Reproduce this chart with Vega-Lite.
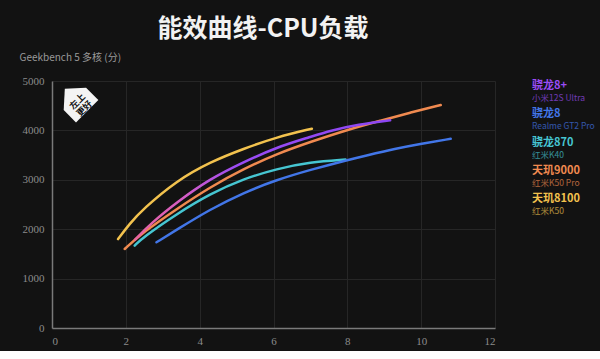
{
  "$schema": "https://vega.github.io/schema/vega-lite/v6.json",
  "background": "#121212",
  "padding": {"left": 19, "top": 17, "right": 5, "bottom": 5},
  "bounds": "flush",
  "spacing": 37,
  "config": {"view": {"stroke": null}, "font": "Liberation Sans Narrow"},
  "datasets": {
    "curves": [
      {"chip": "天玑8100", "x": 1.79, "y": 1800},
      {"chip": "天玑8100", "x": 2.1, "y": 2110},
      {"chip": "天玑8100", "x": 2.47, "y": 2410},
      {"chip": "天玑8100", "x": 3.38, "y": 2985},
      {"chip": "天玑8100", "x": 4.28, "y": 3360},
      {"chip": "天玑8100", "x": 5.19, "y": 3630},
      {"chip": "天玑8100", "x": 6.09, "y": 3865},
      {"chip": "天玑8100", "x": 7.04, "y": 4035},
      {"chip": "天玑9000", "x": 1.97, "y": 1600},
      {"chip": "天玑9000", "x": 2.47, "y": 1940},
      {"chip": "天玑9000", "x": 3.38, "y": 2410},
      {"chip": "天玑9000", "x": 4.28, "y": 2850},
      {"chip": "天玑9000", "x": 5.19, "y": 3220},
      {"chip": "天玑9000", "x": 6.09, "y": 3525},
      {"chip": "天玑9000", "x": 6.99, "y": 3765},
      {"chip": "天玑9000", "x": 8.08, "y": 4030},
      {"chip": "天玑9000", "x": 8.89, "y": 4195},
      {"chip": "天玑9000", "x": 9.7, "y": 4360},
      {"chip": "天玑9000", "x": 10.53, "y": 4514},
      {"chip": "骁龙870", "x": 2.24, "y": 1668},
      {"chip": "骁龙870", "x": 2.47, "y": 1837},
      {"chip": "骁龙870", "x": 3.38, "y": 2310},
      {"chip": "骁龙870", "x": 4.28, "y": 2716},
      {"chip": "骁龙870", "x": 5.19, "y": 3020},
      {"chip": "骁龙870", "x": 6.09, "y": 3223},
      {"chip": "骁龙870", "x": 6.99, "y": 3358},
      {"chip": "骁龙870", "x": 7.95, "y": 3410},
      {"chip": "骁龙8", "x": 2.83, "y": 1735},
      {"chip": "骁龙8", "x": 3.38, "y": 1990},
      {"chip": "骁龙8", "x": 4.28, "y": 2400},
      {"chip": "骁龙8", "x": 5.19, "y": 2740},
      {"chip": "骁龙8", "x": 6.09, "y": 3000},
      {"chip": "骁龙8", "x": 6.99, "y": 3200},
      {"chip": "骁龙8", "x": 8.0, "y": 3400},
      {"chip": "骁龙8", "x": 8.5, "y": 3490},
      {"chip": "骁龙8", "x": 9.3, "y": 3630},
      {"chip": "骁龙8", "x": 10.0, "y": 3730},
      {"chip": "骁龙8", "x": 10.8, "y": 3830},
      {"chip": "骁龙8+", "x": 2.25, "y": 1790},
      {"chip": "骁龙8+", "x": 2.7, "y": 2130},
      {"chip": "骁龙8+", "x": 3.38, "y": 2545},
      {"chip": "骁龙8+", "x": 4.28, "y": 3020},
      {"chip": "骁龙8+", "x": 5.19, "y": 3360},
      {"chip": "骁龙8+", "x": 6.09, "y": 3660},
      {"chip": "骁龙8+", "x": 6.99, "y": 3865},
      {"chip": "骁龙8+", "x": 7.53, "y": 3994},
      {"chip": "骁龙8+", "x": 8.3, "y": 4120},
      {"chip": "骁龙8+", "x": 9.16, "y": 4205}
    ],
    "legend": [
      {"chip": "骁龙8+", "device": "小米12S Ultra"},
      {"chip": "骁龙8", "device": "Realme GT2 Pro"},
      {"chip": "骁龙870", "device": "红米K40"},
      {"chip": "天玑9000", "device": "红米K50 Pro"},
      {"chip": "天玑8100", "device": "红米K50"}
    ],
    "badge": [
      {"x": 0.65, "y": 4615, "label": "左上\n更好"}
    ]
  },
  "hconcat": [
    {
      "width": 443,
      "height": 247,
      "title": {
        "text": "能效曲线-CPU负载",
        "font": "Noto Sans CJK SC",
        "fontSize": 25,
        "fontWeight": "bold",
        "color": "#f2f2f2",
        "anchor": "middle",
        "frame": "bounds",
        "offset": 10,
        "dx": 6
      },
      "layer": [
        {
          "data": {"name": "curves"},
          "transform": [{"filter": "datum.chip != '骁龙8+'"}],
          "mark": {"type": "line", "interpolate": "basis", "strokeWidth": 2.5, "strokeCap": "round"},
          "encoding": {
            "x": {
              "field": "x", "type": "quantitative",
              "scale": {"domain": [0, 12], "nice": false},
              "axis": {
                "values": [0, 2, 4, 6, 8, 10, 12],
                "title": null,
                "ticks": false,
                "labelPadding": 7,
                "labelFontSize": 11,
                "labelColor": "#8c8c8c",
                "domainColor": "#7a7a7a",
                "domainWidth": 1.5,
                "gridColor": "#262626",
                "gridWidth": 1
              }
            },
            "y": {
              "field": "y", "type": "quantitative",
              "scale": {"domain": [0, 5000], "nice": false},
              "axis": {
                "values": [0, 500, 1000, 1500, 2000, 2500, 3000, 3500, 4000, 4500, 5000],
                "labelExpr": "datum.value % 1000 == 0 ? datum.label : ''",
                "format": "d",
                "title": "Geekbench 5 多核 (分)",
                "titleFont": "Noto Sans CJK SC",
                "titleFontSize": 10,
                "titleFontWeight": "normal",
                "titleColor": "#9a9a9a",
                "titleAngle": 0,
                "titleAlign": "left",
                "titleBaseline": "alphabetic",
                "titleX": -33,
                "titleY": -21,
                "ticks": false,
                "labelPadding": 8,
                "labelFontSize": 11,
                "labelColor": "#8c8c8c",
                "domainColor": "#7a7a7a",
                "domainWidth": 1.5,
                "gridColor": "#262626",
                "gridWidth": 1
              }
            },
            "color": {
              "field": "chip", "type": "nominal",
              "scale": {
                "domain": ["骁龙8+", "骁龙8", "骁龙870", "天玑9000", "天玑8100"],
                "range": ["#9a4cf5", "#4276e8", "#46c6d2", "#f08a50", "#f2c24e"]
              },
              "legend": null
            }
          }
        },
        {
          "data": {"name": "curves"},
          "transform": [{"filter": "datum.chip == '骁龙8+'"}],
          "mark": {
            "type": "line", "interpolate": "basis", "strokeWidth": 2.5, "strokeCap": "round",
            "color": {
              "gradient": "linear", "x1": 0, "x2": 1, "y1": 0, "y2": 0,
              "stops": [
                {"offset": 0, "color": "#e8649e"},
                {"offset": 0.2, "color": "#d45cc8"},
                {"offset": 0.4, "color": "#9a4cf5"},
                {"offset": 1, "color": "#8c46f2"}
              ]
            }
          },
          "encoding": {
            "x": {"field": "x", "type": "quantitative"},
            "y": {"field": "y", "type": "quantitative"}
          }
        },
        {
          "data": {"name": "badge"},
          "mark": {
            "type": "point", "filled": true, "color": "#f4f4f4", "opacity": 1,
            "shape": "M0,-1L1,-0.1L1,1L-1,1L-1,-0.1Z", "angle": 315, "size": 1000
          },
          "encoding": {
            "x": {"field": "x", "type": "quantitative"},
            "y": {"field": "y", "type": "quantitative"}
          }
        },
        {
          "data": {"name": "badge"},
          "mark": {
            "type": "text", "font": "Noto Sans CJK SC", "fontSize": 9, "fontWeight": "bold",
            "color": "#151515", "angle": 315, "lineBreak": "\n", "align": "center", "baseline": "middle", "dy": 2, "lineHeight": 10
          },
          "encoding": {
            "x": {"field": "x", "type": "quantitative"},
            "y": {"field": "y", "type": "quantitative"},
            "text": {"field": "label"}
          }
        }
      ]
    },
    {
      "width": 60,
      "height": 247,
      "data": {"name": "legend"},
      "layer": [
        {
          "mark": {"type": "text", "align": "left", "baseline": "middle", "font": "Noto Sans CJK SC", "fontSize": 11, "fontWeight": "bold"},
          "encoding": {
            "x": {"datum": 0, "type": "quantitative", "scale": {"domain": [0, 1]}, "axis": null},
            "y": {"field": "chip", "type": "nominal", "sort": null, "scale": {"type": "point", "range": [5, 118], "padding": 0}, "axis": null},
            "text": {"field": "chip"},
            "color": {
              "field": "chip", "type": "nominal",
              "scale": {
                "domain": ["骁龙8+", "骁龙8", "骁龙870", "天玑9000", "天玑8100"],
                "range": ["#9a4cf5", "#4276e8", "#46c6d2", "#f08a50", "#f2c24e"]
              },
              "legend": null
            }
          }
        },
        {
          "mark": {"type": "text", "align": "left", "baseline": "middle", "font": "Noto Sans CJK SC", "fontSize": 8.5, "dy": 12, "opacity": 0.7},
          "encoding": {
            "x": {"datum": 0, "type": "quantitative", "scale": {"domain": [0, 1]}, "axis": null},
            "y": {"field": "chip", "type": "nominal", "sort": null, "scale": {"type": "point", "range": [5, 118], "padding": 0}, "axis": null},
            "text": {"field": "device"},
            "color": {
              "field": "chip", "type": "nominal",
              "scale": {
                "domain": ["骁龙8+", "骁龙8", "骁龙870", "天玑9000", "天玑8100"],
                "range": ["#9a4cf5", "#4276e8", "#46c6d2", "#f08a50", "#f2c24e"]
              },
              "legend": null
            }
          }
        }
      ]
    }
  ]
}
